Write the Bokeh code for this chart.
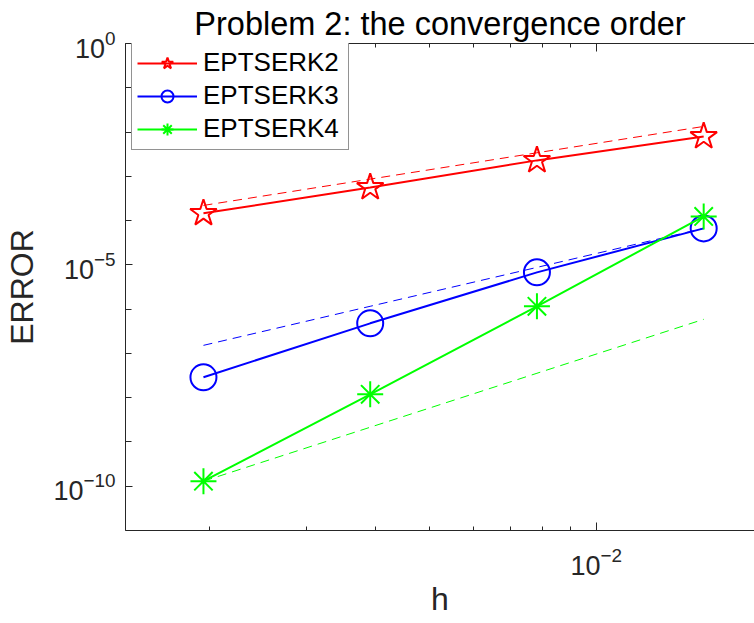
from bokeh.plotting import figure
from bokeh.models import LogAxis, FixedTicker, Range1d
from bokeh.embed import file_html
from bokeh.resources import INLINE

# ---- data ----
h = [1/512, 1/256, 1/128, 1/64]
err_rk2 = [1.46e-4, 5.61e-4, 2.29e-3, 7.96e-3]
err_rk3 = [2.89e-8, 4.78e-7, 6.77e-6, 6.67e-5]
err_rk4 = [1.30e-10, 1.19e-8, 1.16e-6, 1.24e-4]
ref_o2 = [2.20e-4, 8.65e-4, 3.40e-3, 1.34e-2]
ref_o3 = [1.52e-7, 1.16e-6, 8.77e-6, 6.67e-5]
ref_o4 = [1.30e-10, 2.15e-9, 3.56e-8, 5.89e-7]
labels = ["EPTSERK2", "EPTSERK3", "EPTSERK4"]
x_major = [1e-2]
x_minor = [2e-3, 3e-3, 4e-3, 5e-3, 6e-3, 7e-3, 8e-3, 9e-3]
y_major = [1e-10, 1e-5, 1e0]
y_minor = [1e0, 1e-1, 1e-2, 1e-3, 1e-4, 1e-5, 1e-6, 1e-7, 1e-8, 1e-9, 1e-10, 1e-11]

FONT = "Liberation Sans"
AX = "#262626"

p = figure(width=754, height=623, x_axis_type="log", y_axis_type="log",
           x_range=Range1d(1.4125e-3, 0.0193), y_range=Range1d(1e-11, 1.0),
           output_backend="svg", toolbar_location=None,
           min_border_left=125, min_border_right=0, min_border_top=43, min_border_bottom=93)

p.title.text = "Problem 2: the convergence order"
p.title.align = "center"
p.title.text_font = FONT
p.title.text_font_size = "32.5px"
p.title.text_font_style = "normal"
p.title.text_color = "#000000"
p.title.standoff = 4

p.grid.visible = False
p.outline_line_color = None
p.background_fill_color = "white"
p.border_fill_color = "white"

def style_axis(ax, ticks, minor, mt, mn):
    ax.ticker = FixedTicker(ticks=ticks, minor_ticks=minor)
    ax.major_tick_in = mt
    ax.major_tick_out = 0
    ax.minor_tick_in = mn
    ax.minor_tick_out = 0
    ax.axis_line_color = AX
    ax.major_tick_line_color = AX
    ax.minor_tick_line_color = AX
    ax.major_label_text_font = FONT
    ax.major_label_text_font_size = "27px"
    ax.major_label_text_color = AX
    ax.axis_label_text_font = FONT
    ax.axis_label_text_font_size = "32px"
    ax.axis_label_text_font_style = "normal"
    ax.axis_label_text_color = AX

xa = p.xaxis[0]
style_axis(xa, x_major, x_minor, 8, 4)
xa.axis_label = "h"
xa.major_label_standoff = 16
xa.axis_label_standoff = 3

ya = p.yaxis[0]
style_axis(ya, y_major, y_minor, 7, 6)
ya.axis_label = "ERROR"
ya.major_label_standoff = 10
ya.axis_label_standoff = 10

top = LogAxis()
style_axis(top, x_major, x_minor, 8, 4)
top.major_label_text_font_size = "1px"
top.major_label_text_alpha = 0.0
top.major_label_standoff = 0
p.add_layout(top, "above")

# dashed reference slopes
p.line(h, ref_o2, line_color="#ff0000", line_width=1, line_dash="9 6")
p.line(h, ref_o3, line_color="#0000ff", line_width=1, line_dash="9 6")
p.line(h, ref_o4, line_color="#00ff00", line_width=1, line_dash="9 6")

# results
p.line(h, err_rk2, line_color="#ff0000", line_width=2, legend_label=labels[0])
p.scatter(h, err_rk2, marker="star", size=28, line_color="#ff0000", fill_color=None,
          line_width=2, legend_label=labels[0])
p.line(h, err_rk3, line_color="#0000ff", line_width=2, legend_label=labels[1])
p.scatter(h, err_rk3, marker="circle", size=26, line_color="#0000ff", fill_color=None,
          line_width=2, legend_label=labels[1])
p.line(h, err_rk4, line_color="#00ff00", line_width=2, legend_label=labels[2])
p.scatter(h, err_rk4, marker="asterisk", size=26, line_color="#00ff00", fill_color=None,
          line_width=2, legend_label=labels[2])

lg = p.legend[0]
lg.location = (6, 380)
lg.margin = 0
lg.padding = 5
lg.spacing = 2
lg.glyph_width = 60
lg.glyph_height = 30
lg.label_height = 30
lg.label_width = 140
lg.label_standoff = 6
lg.label_text_font = FONT
lg.label_text_font_size = "26px"
lg.label_text_color = "#000000"
lg.border_line_color = AX
lg.border_line_width = 1
lg.background_fill_color = "white"
lg.background_fill_alpha = 1.0

open("out.html", "w").write(file_html(p, INLINE))
